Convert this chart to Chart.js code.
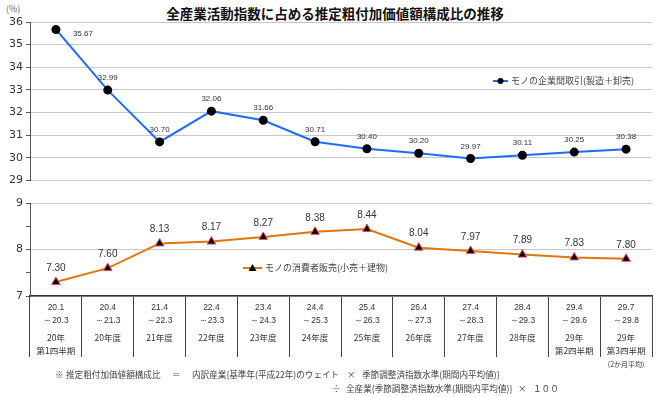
<!DOCTYPE html>
<html>
<head>
<meta charset="utf-8">
<script src="https://cdn.jsdelivr.net/npm/chart.js@4.4.1/dist/chart.umd.min.js"></script>
<style>
  body { margin: 0; background: #fff; }
  #wrap { position: relative; width: 670px; height: 397px; overflow: hidden; font-family: "Liberation Sans", "Noto Sans CJK JP", sans-serif; }
  .abs { position: absolute; white-space: pre; }
  #title { left: 0; width: 670px; top: 3px; text-align: center; font: bold 13.5px "Noto Sans CJK JP", sans-serif; color: #111; }
  #unit { left: 6px; top: 2px; font: 9px "Noto Sans CJK JP", sans-serif; color: #666; }
  .note { font: 8.6px "Noto Sans CJK JP", sans-serif; color: #444; }
  canvas { position: absolute; left: 0; }
</style>
</head>
<body>
<div id="wrap">
  <div id="title" class="abs">全産業活動指数に占める推定粗付加価値額構成比の推移</div>
  <div id="unit" class="abs">(%)</div>
  <canvas id="top" width="670" height="190" style="top:0"></canvas>
  <canvas id="bottom" width="670" height="180" style="top:190px"></canvas>
  <div class="abs note" style="left:55px;top:368px">※</div>
  <div class="abs note" style="left:66px;top:368px">推定粗付加価値額構成比</div>
  <div class="abs note" style="left:172px;top:368px">＝</div>
  <div class="abs note" style="left:192px;top:368px">内訳産業{基準年(平成22年)のウェイト</div>
  <div class="abs note" style="left:347px;top:368px">×</div>
  <div class="abs note" style="left:362px;top:368px">季節調整済指数水準(期間内平均値)}</div>
  <div class="abs note" style="left:332px;top:382px">÷</div>
  <div class="abs note" style="left:346px;top:382px">全産業{季節調整済指数水準(期間内平均値)}</div>
  <div class="abs note" style="left:518px;top:382px">×</div>
  <div class="abs note" style="left:533px;top:382px">１００</div>
</div>
<script>
// categories
const periodStarts = ['20.1', '20.4', '21.4', '22.4', '23.4', '24.4', '25.4', '26.4', '27.4', '28.4', '29.4', '29.7'];
const periodEnds = ['～20.3', '～21.3', '～22.3', '～23.3', '～24.3', '～25.3', '～26.3', '～27.3', '～28.3', '～29.3', '～29.6', '～29.8'];
const periodNames = [['20年', '第1四半期'], ['20年度'], ['21年度'], ['22年度'], ['23年度'], ['24年度'],
  ['25年度'], ['26年度'], ['27年度'], ['28年度'], ['29年', '第2四半期'], ['29年', '第3四半期', '(2か月平均)']];

// series values (%)
const b2bValues = [35.67, 32.99, 30.70, 32.06, 31.66, 30.71, 30.40, 30.20, 29.97, 30.11, 30.25, 30.38];
const consumerValues = [7.30, 7.60, 8.13, 8.17, 8.27, 8.38, 8.44, 8.04, 7.97, 7.89, 7.83, 7.80];

const b2bName = 'モノの企業間取引(製造＋卸売)';
const consumerName = 'モノの消費者販売(小売＋建物)';

const JP = '"Noto Sans CJK JP", sans-serif';

// value labels above the points
const valueLabels = {
  id: 'valueLabels',
  afterDatasetsDraw(chart, args, opts) {
    const ctx = chart.ctx;
    const meta = chart.getDatasetMeta(0);
    const data = chart.data.datasets[0].data;
    ctx.save();
    ctx.font = opts.font;
    ctx.fillStyle = '#333';
    ctx.textAlign = 'center';
    ctx.textBaseline = 'middle';
    meta.data.forEach((pt, i) => {
      let dx = 0, dy = opts.dy;
      if (i === 0 && opts.firstDx) { dx = opts.firstDx; dy = opts.firstDy; }
      ctx.fillText(data[i].toFixed(2), pt.x + dx, pt.y + dy);
    });
    ctx.restore();
  }
};

// small legend drawn inside the plot
const inlineLegend = {
  id: 'inlineLegend',
  afterDraw(chart, args, opts) {
    const ctx = chart.ctx;
    const ds = chart.data.datasets[0];
    ctx.save();
    ctx.strokeStyle = ds.borderColor;
    ctx.lineWidth = 2;
    ctx.beginPath();
    ctx.moveTo(opts.x, opts.y);
    ctx.lineTo(opts.x + opts.w, opts.y);
    ctx.stroke();
    const mx = opts.x + opts.w / 2;
    ctx.fillStyle = '#000';
    if (opts.marker === 'triangle') {
      ctx.beginPath();
      ctx.moveTo(mx, opts.y - 4);
      ctx.lineTo(mx + 4, opts.y + 3);
      ctx.lineTo(mx - 4, opts.y + 3);
      ctx.closePath();
      ctx.fill();
    } else {
      ctx.beginPath();
      ctx.arc(mx, opts.y, 3, 0, Math.PI * 2);
      ctx.fill();
    }
    ctx.font = '9px ' + JP;
    ctx.fillStyle = '#444';
    ctx.textBaseline = 'middle';
    ctx.fillText(ds.label, opts.x + opts.w + 3, opts.y);
    ctx.restore();
  }
};

// period table under the x axis
const periodTable = {
  id: 'periodTable',
  afterDraw(chart) {
    const ctx = chart.ctx;
    const xs = chart.scales.x;
    const y0 = xs.top;
    ctx.save();
    ctx.fillStyle = '#333';
    ctx.textAlign = 'center';
    ctx.textBaseline = 'middle';
    periodStarts.forEach((s, i) => {
      const x = xs.getPixelForValue(i);
      ctx.font = '8.5px "Liberation Sans", sans-serif';
      ctx.fillText(s, x, y0 + 12);
      ctx.fillText(periodEnds[i], x, y0 + 25);
      ctx.font = '8.5px ' + JP;
      ctx.fillText(periodNames[i][0], x, y0 + 42);
      if (periodNames[i][1]) ctx.fillText(periodNames[i][1], x, y0 + 55);
      if (periodNames[i][2]) {
        ctx.font = '7px ' + JP;
        ctx.fillText(periodNames[i][2], x, y0 + 68);
      }
    });
    ctx.restore();
  }
};

const fixWidth = (s) => { s.width = 30; };

new Chart(document.getElementById('top'), {
  type: 'line',
  data: {
    labels: periodStarts,
    datasets: [{
      label: b2bName,
      data: b2bValues,
      borderColor: '#1f6bff',
      borderWidth: 2,
      pointBackgroundColor: '#000',
      pointBorderColor: '#000',
      pointRadius: 3.5,
      tension: 0,
    }],
  },
  options: {
    responsive: false,
    animation: false,
    layout: { padding: { top: 22, bottom: 6, left: 0, right: 18 } },
    scales: {
      x: { display: false, offset: true },
      y: {
        min: 29, max: 36,
        afterFit: fixWidth,
        ticks: { stepSize: 1, color: '#333', font: { family: 'DejaVu Sans', size: 11 }, padding: 3 },
        grid: { color: '#c8c8c8', tickColor: '#555', tickLength: 4 },
        border: { color: '#555', width: 1 },
      },
    },
    plugins: {
      legend: { display: false },
      tooltip: { enabled: false },
      valueLabels: { font: '8px "Liberation Sans", sans-serif', dy: -12, firstDx: 27, firstDy: 4 },
      inlineLegend: { x: 493, y: 81, w: 15, marker: 'circle' },
    },
  },
  plugins: [valueLabels, inlineLegend],
});

new Chart(document.getElementById('bottom'), {
  type: 'line',
  data: {
    labels: periodStarts,
    datasets: [{
      label: consumerName,
      data: consumerValues,
      borderColor: '#e0760e',
      borderWidth: 2,
      pointStyle: 'triangle',
      pointBackgroundColor: '#000',
      pointBorderColor: '#e8505b',
      pointBorderWidth: 1,
      pointRadius: 5,
      tension: 0,
    }],
  },
  options: {
    responsive: false,
    animation: false,
    layout: { padding: { top: 13, bottom: 14, left: 0, right: 18 } },
    scales: {
      x: {
        offset: true,
        afterFit: (s) => { s.height = 60; },
        ticks: { display: false },
        grid: { offset: true, drawOnChartArea: false, drawTicks: true, tickLength: 61, color: '#444', lineWidth: 1 },
        border: { color: '#333', width: 1.5 },
      },
      y: {
        min: 7, max: 9,
        afterFit: fixWidth,
        ticks: {
          stepSize: 0.5, color: '#333', font: { family: 'DejaVu Sans', size: 11 }, padding: 3,
          callback: (v) => (v % 1 === 0 ? v : ''),
        },
        grid: {
          color: (c) => (c.tick && c.tick.value % 1 === 0 ? '#c8c8c8' : 'rgba(0,0,0,0)'),
          tickColor: '#555', tickLength: 4,
        },
        border: { color: '#555', width: 1 },
      },
    },
    plugins: {
      legend: { display: false },
      tooltip: { enabled: false },
      valueLabels: { font: '10px "Liberation Sans", sans-serif', dy: -14 },
      inlineLegend: { x: 243, y: 78, w: 19, marker: 'triangle' },
    },
  },
  plugins: [valueLabels, inlineLegend, periodTable],
});
</script>
</body>
</html>
